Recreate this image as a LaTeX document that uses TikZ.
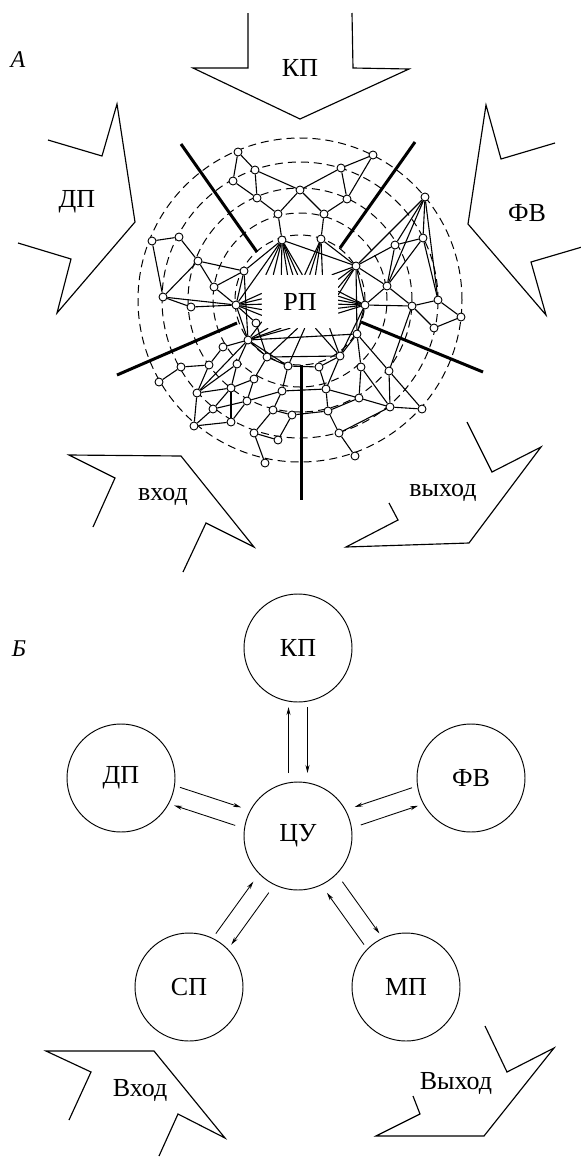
\documentclass[tikz,border=0pt]{standalone}
\usepackage{fontspec}
\setmainfont{Liberation Serif}
\usetikzlibrary{calc,arrows.meta}
\pgfdeclarelayer{bg}
\pgfsetlayers{bg,main}
\begin{document}
\begin{tikzpicture}[x=1pt,y=-1pt,
  nd/.style={circle,draw,fill=white,inner sep=0pt,minimum size=8pt,line width=0.9pt},
  ed/.style={line width=1.1pt},
  ring/.style={line width=1pt,dash pattern=on 8pt off 5pt},
  spoke/.style={line width=3pt},
  bigarrow/.style={line width=1.15pt,line join=miter},
  lbl/.style={font=\fontsize{26}{28}\selectfont,inner sep=0pt},
  tag/.style={font=\fontsize{24}{26}\selectfont\itshape,inner sep=0pt},
  big/.style={circle,draw,line width=0.95pt,minimum size=108pt,inner sep=0pt,font=\fontsize{26}{28}\selectfont},
  arr/.style={line width=0.85pt,-{Stealth[length=8pt,width=4pt]}}
]
\useasboundingbox (0,0) rectangle (581,1157);

% ---------------- Part A ----------------
\node[tag] (tagA) at (18,60) {А};

% big outlined arrows
\draw[bigarrow] (248,13)--(248,68)--(193,68)--(300,119)--(409,69)--(353,68)--(352,13);
\node[lbl] (kpA) at (300,68) {КП};
\draw[bigarrow] (48,140)--(102,156)--(117,104)--(135,222)--(57,313)--(71,259)--(18,243);
\node[lbl] (dpA) at (77,202) {ДП};
\draw[bigarrow] (555,143)--(501,159)--(486,105)--(468,224)--(546,315)--(531,262)--(582,247);
\node[lbl] (fvA) at (527,213) {ФВ};
\draw[bigarrow] (93,527)--(115,478)--(69,455)--(181,456)--(254,547)--(206,523)--(183,572);
\node[lbl] (inA) at (163,497) {вход};
\draw[bigarrow] (467,422)--(492,472)--(541,447)--(469,543)--(346,547)--(398,520)--(389,503);
\node[lbl] (outA) at (443,493) {выход};

% central box
\node[lbl,fill=white,minimum width=76pt,minimum height=53pt] (rp) at (300,301.5) {РП};

% network nodes
\foreach \n/\x/\y in {t1/238/152, t2/255/170, t3/233/181, t4/257/198, t5/300/190, t6/341/168,
  t7/373/155, t8/347/199, t9/278/214, t10/324/214, h1/282/240, t12/321/239,
  r1/425/197, r2/423/238, r3/395/245, h2/356/266, r5/387/286, h3/365/305, r7/412/306,
  r8/438/300, r9/434/328, r10/461/317, r11/357/334,
  l1/152/241, l2/179/237, l3/198/261, l4/244/271, l5/214/287, l6/163/297, l7/191/307,
  h4/236/305, l9/256/323, h5/248/340,
  b1/223/347, b3/267/357, b4/288/366, b5/237/364, b6/209/365, b7/181/367, b8/159/382,
  b9/254/379, b10/231/388, b11/197/393, b12/282/391, b13/247/401, b14/213/409, b15/273/410,
  b16/292/415, b17/231/422, b18/194/426, b19/254/433, b20/278/440, b21/265/463,
  m2/340/356, m3/361/367, m4/389/371, m5/319/367, m6/326/389, m7/359/398, m8/390/407,
  m9/422/409, m10/328/411, m11/339/433, m12/355/456}
  \node[nd] (\n) at (\x,\y) {};

\begin{pgfonlayer}{bg}
  \coordinate (ctr) at (300,300);
  \foreach \r in {162,138,112,87,65}
    \draw[ring] (ctr) circle[radius=\r pt];
  \foreach \a/\b in {t1/t2, t1/t3, t2/t4, t3/t4, t2/t5, t5/t6, t6/t7, t6/t8, t7/t8, t4/t9,
    t5/t9, t5/t10, t8/t10, t9/h1, t10/t12, h1/h2, h1/h4, h1/l4, t12/h2,
    r1/h2, r1/r3, r1/r2, r1/r5, r1/r8, r2/r3, r2/r8, r3/h2, r3/r5, h2/r5, h2/h3, r5/h3,
    r5/r7, h3/r7, r7/r8, r7/r9, r8/r10, r9/r10, h3/r11, h2/r11, r2/r5,
    l1/l2, l2/l3, l1/l6, l3/l4, l3/l5, l3/l6, l5/l4, l6/l7, l6/h4, l7/h4, l5/h4, l4/h4,
    l4/h5, h4/h5, h4/l9,
    b1/h5, b1/b6, b6/b7, b7/b8, h5/b5, h5/b3, h5/b11, h5/b4, h5/r11, b5/b10, b5/b11,
    b3/b9, b3/b4, b3/m2, b9/b10, b9/b13, b10/b17, b10/b14, b11/b10, b12/b4, b12/b13,
    b12/b15, b13/b14, b13/b17, b14/b18, b17/b18, b15/b19, b15/b16, b16/b20, b19/b20,
    b19/b21, b11/b18, b4/m5, b12/m6, b16/m10, b6/b11, l9/b3,
    r11/m2, r11/m3, m2/m5, m2/m6, m3/m7, m3/m8, m4/m8, m4/m9, r11/m4, m5/m6, m6/m7,
    m6/m10, m7/m8, m7/m10, m8/m9, m8/m11, m10/m11, m11/m12, m2/h3, m4/r7}
    \draw[ed] (\a) -- (\b);
  % fans into the central box
  \foreach \h/\ang in {h1/85, h1/95, h1/105, h1/115, h1/125, h1/135, h1/142,
    t12/50, t12/60, t12/70, t12/80,
    h2/40, h2/30, h2/20, h2/10,
    h3/15, h3/8, h3/2, h3/356, h3/350, h3/343,
    h4/168, h4/176, h4/184, h4/192, h4/200,
    h5/208, h5/220, h5/235, h5/250,
    m2/300, m2/318, b3/265, b4/280}
    \draw[ed] (\h) -- (rp.\ang);
\end{pgfonlayer}

% thick radial spokes
\draw[spoke] (181,144) -- (257,252);
\draw[spoke] (415,142) -- (340,248);
\draw[spoke] (117,375) -- (237,323);
\draw[spoke] (361,322) -- (483,372);
\draw[spoke] (301,365) -- (301,500);

% ---------------- Part B ----------------
\node[tag] (tagB) at (19,649) {Б};

\node[big] (kp) at (298,648) {КП};
\node[big] (dp) at (121,778) {ДП};
\node[big] (fv) at (471,778) {ФВ};
\node[big] (cu) at (298,836) {ЦУ};
\node[big] (sp) at (189,987) {СП};
\node[big] (mp) at (406,987) {МП};

% outer -> centre (in) and centre -> outer (out)
\foreach \o/\s in {kp/90, dp/90, sp/90, mp/90, fv/-90}{
  \draw[arr] ($(\o)!59pt!(cu)!9.5pt!\s:(cu)$) -- ($(cu)!63pt!(\o)!9.5pt!-\s:(\o)$);
  \draw[arr] ($(cu)!63pt!(\o)!9.5pt!\s:(\o)$) -- ($(\o)!59pt!(cu)!9.5pt!-\s:(cu)$);
}

\draw[bigarrow] (69,1120)--(91,1072)--(46,1051)--(154,1051)--(225,1138)--(178,1114)--(159,1156);
\node[lbl] (inB) at (140,1090) {Вход};
\draw[bigarrow] (485,1026)--(507,1072)--(554,1048)--(484,1136)--(376,1136)--(420,1114)--(413,1096);
\node[lbl] (outB) at (456,1083) {Выход};
\end{tikzpicture}
\end{document}
